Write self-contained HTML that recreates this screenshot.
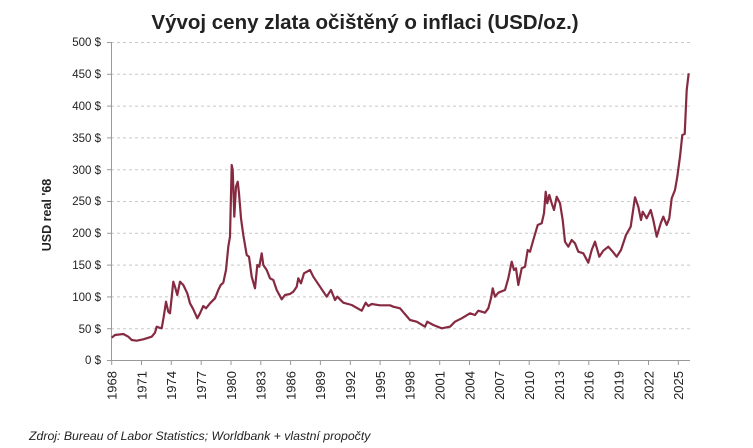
<!DOCTYPE html>
<html><head><meta charset="utf-8"><style>
body{margin:0;background:#fff;}
svg{display:block;}
</style></head><body>
<svg width="753" height="448" xmlns="http://www.w3.org/2000/svg" font-family="Liberation Sans, sans-serif">
<text x="365" y="29" text-anchor="middle" font-size="20.5" font-weight="bold" fill="#222">Vývoj ceny zlata očištěný o inflaci (USD/oz.)</text>
<g stroke="#c8c8c8" stroke-dasharray="3,3" stroke-width="1">
<line x1="111" x2="690" y1="42.5" y2="42.5"/><line x1="111" x2="690" y1="74.3" y2="74.3"/><line x1="111" x2="690" y1="106.1" y2="106.1"/><line x1="111" x2="690" y1="137.9" y2="137.9"/><line x1="111" x2="690" y1="169.7" y2="169.7"/><line x1="111" x2="690" y1="201.5" y2="201.5"/><line x1="111" x2="690" y1="233.3" y2="233.3"/><line x1="111" x2="690" y1="265.1" y2="265.1"/><line x1="111" x2="690" y1="296.9" y2="296.9"/><line x1="111" x2="690" y1="328.7" y2="328.7"/>
</g>
<g stroke="#999" stroke-width="1">
<line x1="111.5" y1="42" x2="111.5" y2="361"/><line x1="111" y1="360.5" x2="690" y2="360.5"/>
<line x1="107" x2="111" y1="42.5" y2="42.5"/><line x1="107" x2="111" y1="74.3" y2="74.3"/><line x1="107" x2="111" y1="106.1" y2="106.1"/><line x1="107" x2="111" y1="137.9" y2="137.9"/><line x1="107" x2="111" y1="169.7" y2="169.7"/><line x1="107" x2="111" y1="201.5" y2="201.5"/><line x1="107" x2="111" y1="233.3" y2="233.3"/><line x1="107" x2="111" y1="265.1" y2="265.1"/><line x1="107" x2="111" y1="296.9" y2="296.9"/><line x1="107" x2="111" y1="328.7" y2="328.7"/><line x1="107" x2="111" y1="360.5" y2="360.5"/>
<line x1="111.7" x2="111.7" y1="360" y2="365"/><line x1="141.5" x2="141.5" y1="360" y2="365"/><line x1="171.3" x2="171.3" y1="360" y2="365"/><line x1="201.2" x2="201.2" y1="360" y2="365"/><line x1="231" x2="231" y1="360" y2="365"/><line x1="260.8" x2="260.8" y1="360" y2="365"/><line x1="290.6" x2="290.6" y1="360" y2="365"/><line x1="320.4" x2="320.4" y1="360" y2="365"/><line x1="350.3" x2="350.3" y1="360" y2="365"/><line x1="380.1" x2="380.1" y1="360" y2="365"/><line x1="409.9" x2="409.9" y1="360" y2="365"/><line x1="439.7" x2="439.7" y1="360" y2="365"/><line x1="469.5" x2="469.5" y1="360" y2="365"/><line x1="499.4" x2="499.4" y1="360" y2="365"/><line x1="529.2" x2="529.2" y1="360" y2="365"/><line x1="559" x2="559" y1="360" y2="365"/><line x1="588.8" x2="588.8" y1="360" y2="365"/><line x1="618.6" x2="618.6" y1="360" y2="365"/><line x1="648.5" x2="648.5" y1="360" y2="365"/><line x1="678.3" x2="678.3" y1="360" y2="365"/>
</g>
<g font-size="11.5" fill="#222" text-anchor="end">
<text x="101" y="46">500 $</text><text x="101" y="78">450 $</text><text x="101" y="110">400 $</text><text x="101" y="142">350 $</text><text x="101" y="174">300 $</text><text x="101" y="205">250 $</text><text x="101" y="237">200 $</text><text x="101" y="269">150 $</text><text x="101" y="301">100 $</text><text x="101" y="333">50 $</text><text x="101" y="364">0 $</text>
</g>
<text transform="translate(51,215) rotate(-90)" text-anchor="middle" font-size="12.5" font-weight="bold" fill="#222">USD real '68</text>
<g font-size="13" fill="#222" text-anchor="end">
<text transform="translate(116.5,371) rotate(-90)">1968</text>
<text transform="translate(146.3,371) rotate(-90)">1971</text>
<text transform="translate(176.1,371) rotate(-90)">1974</text>
<text transform="translate(206,371) rotate(-90)">1977</text>
<text transform="translate(235.8,371) rotate(-90)">1980</text>
<text transform="translate(265.6,371) rotate(-90)">1983</text>
<text transform="translate(295.4,371) rotate(-90)">1986</text>
<text transform="translate(325.2,371) rotate(-90)">1989</text>
<text transform="translate(355.1,371) rotate(-90)">1992</text>
<text transform="translate(384.9,371) rotate(-90)">1995</text>
<text transform="translate(414.7,371) rotate(-90)">1998</text>
<text transform="translate(444.5,371) rotate(-90)">2001</text>
<text transform="translate(474.3,371) rotate(-90)">2004</text>
<text transform="translate(504.2,371) rotate(-90)">2007</text>
<text transform="translate(534,371) rotate(-90)">2010</text>
<text transform="translate(563.8,371) rotate(-90)">2013</text>
<text transform="translate(593.6,371) rotate(-90)">2016</text>
<text transform="translate(623.4,371) rotate(-90)">2019</text>
<text transform="translate(653.3,371) rotate(-90)">2022</text>
<text transform="translate(683.1,371) rotate(-90)">2025</text>
</g>
<polyline fill="none" stroke="#862a41" stroke-width="2.2" stroke-linejoin="round" points="111.7,337.7 115,335 123.3,334 128.3,336.7 131.7,340 136.7,340.7 143.3,339.3 151.7,336.7 155,332.7 156.7,326.7 159.3,327.7 161.7,328.3 164,315 166,301.7 168.3,311.7 170,313.3 173.3,281.7 175,286.7 177.3,295 180,281.7 183.3,285 187.3,293.3 190,303.3 193.3,309.3 197.3,318.3 200,313.3 203.3,306 206,308.3 210,303.3 215,298.3 218.3,290 220.7,285 223.3,282.7 226,270 228.3,246.7 230,236.7 231.7,165 232.7,170 234.3,216.7 236,186.7 237.7,181.7 239,193.3 241,218.3 243.3,235 246.7,255 249,256.7 251.7,276.7 255,288.3 257.3,265 259.3,266.7 261.7,253.3 263.3,265 266.7,270 270,278.3 273.3,280 276.7,290 281.7,299.3 285,295 290,294 293.3,291.7 296.7,286.7 298.3,278.3 301,283.3 304,273.3 310,270 313.3,276.7 320,286.7 326.7,296.7 331,290 335,300 337.3,296.7 343.3,302.7 351.7,305 361.7,310.7 365.7,302.7 368.3,306 371.7,304 380,305.3 390,305.3 393.3,306.7 400,308.3 410,320 416.7,321.7 425,326.7 427.3,321.7 433.3,325 441.7,328.3 450,326.7 455,321.7 461.7,318.3 470,313.3 475,315 478.3,310.7 485,312.7 488.3,308.3 491,298.3 492.7,288.3 495,296.7 498.3,292.7 505,290 508.3,278.3 511.7,261.7 514,270 516,268.3 518.3,285 521.7,268.3 525,266.7 527.7,250 530,251.7 533.3,240 537.7,225 541.7,223.3 544,213.3 545.7,191.7 547.3,203.3 549.3,195 551.7,203.3 554,210 556.7,196.7 560,203.3 562.7,220 565,241.7 568.3,246.7 571.7,240 575,243.3 578.3,251.7 583.3,253.3 588.3,262.7 591.7,250 595,241.7 599.3,256.7 603.3,250.7 608.3,246.7 612.7,251.7 616.7,256.7 621,250 626,235 630.7,226.7 635,197.3 638.3,206.7 641,220 642.7,211.7 646.7,218.3 650.7,210 653.3,220 656.7,236.7 660.7,223.3 663.3,216.7 666.7,225 669.3,218.3 671.7,198.3 675,190 677.3,176.7 680,156.7 682.3,135 684.7,134 686.7,90 688.7,73.3"/>
<text x="29" y="440" font-size="12.3" font-style="italic" fill="#222">Zdroj: Bureau of Labor Statistics; Worldbank + vlastní propočty</text>
</svg>
</body></html>
